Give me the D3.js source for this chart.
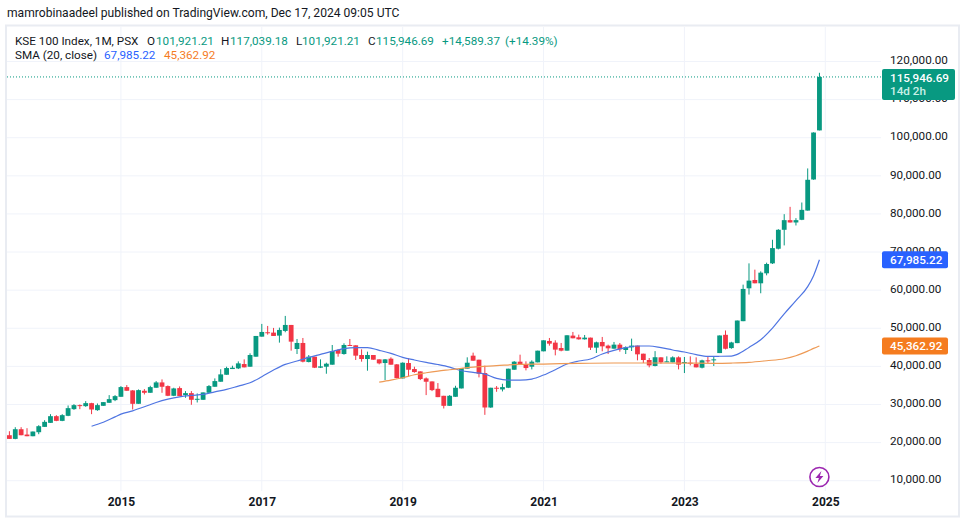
<!DOCTYPE html>
<html><head><meta charset="utf-8">
<script src="https://cdn.jsdelivr.net/npm/d3@7"></script>
<style>html,body{margin:0;padding:0;background:#fff;overflow:hidden}svg{display:block}
text{font-family:Roboto,"Noto Sans",sans-serif;fill:#131722}</style></head>
<body><svg id="c" width="965" height="522"></svg>
<script>
const opens=[21934,20970,23510,22109,21670,22723,24126,25179,26930,25700,27020,28774,29830,29564,30350,28511,29650,30441,31142,32019,34560,33690,30180,33600,33070,34390,35790,34830,32280,34300,32460,32980,31320,31230,33070,34650,35970,37800,39300,39470,40610,39910,42540,47800,48950,48860,48070,49300,50870,44560,46140,41140,42540,39650,39910,40440,44300,43240,45610,45530,42980,41930,42980,41840,40880,42020,40530,36840,40880,39300,38680,36840,36050,34120,32280,29650,32020,34210,39390,42810,41750,38250,29210,34390,33950,34390,39120,41230,40610,39910,41050,43950,46670,46230,44820,44120,48070,47630,47100,47540,44910,46400,45440,44650,45700,44300,45000,45440,43330,41670,40100,42370,41230,41050,42370,41050,40960,40610,39650,41580,41750,43490,48280,44800,46100,51860,60490,62670,61800,64420,67030,70870,75840,78370,77760,78460,80880,89040,101921.21];
const highs=[22986,24040,24040,23776,22900,24565,25880,27459,27196,27460,29739,30090,30002,30879,30440,30265,30620,32458,32460,34826,35090,33770,33950,34040,34910,36140,36580,35000,34390,34740,33510,33510,32900,33160,35090,36843,39250,39910,40175,41315,41840,43420,47980,51140,50610,50090,50170,53240,50870,47190,47450,42980,42540,41840,40960,45610,44560,46050,47190,45530,44470,43860,42980,41840,41930,42370,40610,41050,42100,39910,38680,37100,36050,35620,32280,32460,34910,39560,42370,43600,41750,40180,34390,34830,35440,39390,41400,43070,41320,41580,44120,46840,47450,46840,46140,48160,49030,48330,48240,47540,46490,47720,45700,46400,46140,45260,47280,45440,43330,42190,44000,42370,42630,42630,42630,42460,42630,42370,41750,42460,42460,48110,49420,46450,52030,61450,67030,65380,64940,67210,73220,76010,79940,81860,78890,83000,91940,101420,117039.18];
const lows=[20969,20880,21930,21670,21670,22197,24126,25179,25617,25620,26930,28599,28770,29388,27460,28336,29650,30441,30879,32019,33600,28690,30180,32630,33070,34390,33070,32190,32190,32190,31756,29915,30528,31230,33070,34650,35970,37800,39300,39300,39740,39910,42540,47800,48330,47980,46230,48950,44120,43240,41050,41050,39560,39560,38070,40440,42540,43070,45440,41670,41230,38860,41750,40530,36400,40440,36840,36840,37460,38330,36400,32460,33510,31930,28950,29650,32020,34210,39390,41490,37110,27280,29120,33330,33420,34300,39120,40350,38950,39210,41050,43950,45440,42890,43950,44120,47370,47020,47020,44300,43510,43950,43240,44650,43860,43240,44030,41580,40880,39740,40000,40700,41140,41050,39210,38250,40260,39740,39470,40880,40090,43490,44450,44620,46100,51860,58840,61800,59180,63890,66860,70690,71740,77760,76970,78370,80880,88960,101921.21];
const closes=[20969,23512,21930,21670,22900,24302,25442,26933,25705,27200,29038,29827,29651,30353,28687,29830,30620,31405,32195,34563,33600,30178,33770,33070,34560,35790,34650,32282,34210,32190,32980,31230,31493,33160,34830,36140,37900,39560,39650,40790,39740,42980,47980,49030,48770,47980,49560,50870,46490,46140,41230,42540,39650,40000,40700,44030,43330,45610,45440,42810,41930,42980,41750,40790,41840,40440,36930,40960,39120,38510,36670,35970,33770,31930,29650,32280,34390,39560,40960,41490,38070,29210,34390,34210,34560,39390,41230,40440,39560,41230,44120,46840,45960,44390,44120,48160,47370,47100,47540,44910,46310,45260,44740,45700,44470,45000,45440,43160,41670,40260,42400,41050,41320,42370,40440,41140,40700,39740,41580,41320,41840,48110,44620,46280,52030,60320,62500,61800,64590,66860,71040,75840,78370,77760,78370,81070,88960,101360,115946.69];

const blueMonths=["2014-08","2014-10","2014-12","2015-01","2015-03","2015-05","2015-07","2015-09","2015-11","2016-01","2016-03","2016-05","2016-07","2016-09","2016-11","2017-01","2017-03","2017-05","2017-07","2017-09","2017-11","2018-01","2018-03","2018-05","2018-07","2018-09","2018-11","2019-01","2019-03","2019-05","2019-07","2019-09","2019-11","2020-01","2020-03","2020-05","2020-07","2020-09","2020-11","2021-01","2021-03","2021-05","2021-07","2021-09","2021-11","2022-01","2022-03","2022-05","2022-07","2022-09","2022-11","2023-01","2023-03","2023-05","2023-07","2023-09","2023-10","2023-12","2024-02","2024-04","2024-06","2024-08","2024-10","2024-11","2024-12"];
const blueValues=[24300,25350,26760,27460,28340,29390,30530,31400,32020,32370,32630,33330,33960,34830,35700,37280,39040,40530,41400,42370,43160,43950,44650,44910,44910,44210,43420,42370,41670,41050,40500,39820,38860,38420,37980,36840,36400,36400,36670,37720,39120,40610,41400,41930,43240,44210,44910,45350,45350,44910,44300,43770,43070,42630,42650,42700,43140,44970,46980,50030,53780,57270,60930,63810,67985.22];
const orangeMonths=["2018-09","2018-11","2019-01","2019-03","2019-05","2019-07","2019-09","2019-11","2020-01","2020-05","2020-09","2021-01","2021-07","2022-01","2022-07","2023-01","2023-06","2023-09","2023-12","2024-03","2024-06","2024-08","2024-10","2024-11","2024-12"];
const orangeValues=[35880,36400,37020,37810,38330,38770,39120,39470,39820,40180,40530,40610,40790,40880,40880,40850,40800,40870,41050,41480,42000,42790,44010,44710,45362.92];

const priceTicks=[10000,20000,30000,40000,50000,60000,70000,80000,90000,100000,110000,120000];
const yearTicks=["2015-01","2017-01","2019-01","2021-01","2023-01","2025-01"];
const lastPrice=115946.69, sma1=67985.22, sma2=45362.92;
const legendRows=[
 [["KSE 100 Index, 1M, PSX",15,"#131722"],["O",147,"#131722"],["101,921.21",156,"#089981"],["H",221,"#131722"],["117,039.18",230,"#089981"],["L",296,"#131722"],["101,921.21",302,"#089981"],["C",368,"#131722"],["115,946.69",376,"#089981"],["+14,589.37",442,"#089981"],["(+14.39%)",505,"#089981"]],
 [["SMA (20, close)",15,"#131722"],["67,985.22",104,"#2962ff"],["45,362.92",164,"#f57c1f"]]
];

const fmtMonth=d3.utcFormat("%Y-%m");
const months=d3.utcMonths(new Date(Date.UTC(2013,5,1)),new Date(Date.UTC(2025,1,1))).map(fmtMonth);
const x=d3.scalePoint().domain(months).range([9.4,825.3]);
const y=d3.scaleLinear().domain([10000,120000]).range([480.7,61.5]);
const GREEN="#089981",RED="#f23645";
const svg=d3.select("#c");
const L=7,R=881,T=27,B=491;
const FS="11.7px";

svg.append("rect").attr("x",6).attr("y",25.5).attr("width",953).attr("height",491).attr("fill","none").attr("stroke","#e9ecf2").attr("stroke-width",2);

svg.append("g").selectAll("line").data(priceTicks).join("line")
 .attr("x1",L).attr("x2",R).attr("y1",d=>y(d)).attr("y2",d=>y(d)).attr("stroke","#f0f3fa");
svg.append("g").selectAll("line").data(yearTicks).join("line")
 .attr("x1",d=>x(d)).attr("x2",d=>x(d)).attr("y1",T).attr("y2",B).attr("stroke","#f0f3fa");

const idx=d3.range(opens.length);
const col=i=>closes[i]>=opens[i]?GREEN:RED;
svg.append("g").selectAll("line").data(idx).join("line")
 .attr("x1",i=>x(months[i])).attr("x2",i=>x(months[i]))
 .attr("y1",i=>y(highs[i])).attr("y2",i=>y(lows[i])).attr("stroke",col).attr("stroke-width",1);
svg.append("g").selectAll("rect").data(idx).join("rect")
 .attr("x",i=>x(months[i])-2.4).attr("width",4.8)
 .attr("y",i=>Math.min(y(opens[i]),y(closes[i])))
 .attr("height",i=>Math.max(1,Math.abs(y(opens[i])-y(closes[i]))))
 .attr("fill",col);

const line=d3.line().x(d=>x(d[0])).y(d=>y(d[1])).curve(d3.curveMonotoneX);
svg.append("path").attr("d",line(d3.zip(blueMonths,blueValues))).attr("fill","none").attr("stroke","#4f75e2").attr("stroke-width",1.2);
svg.append("path").attr("d",line(d3.zip(orangeMonths,orangeValues))).attr("fill","none").attr("stroke","#ee9a55").attr("stroke-width",1.2);

svg.append("line").attr("x1",L).attr("x2",R).attr("y1",y(lastPrice)).attr("y2",y(lastPrice))
 .attr("stroke",GREEN).attr("stroke-width",1).attr("stroke-dasharray","1 2");

const ay=svg.append("g").attr("transform","translate(890,-1.5)")
 .call(d3.axisRight(y).tickValues(priceTicks.filter(d=>d!==70000&&d!==110000)).tickSize(0).tickPadding(0).tickFormat(d3.format(",.2f")));
ay.select(".domain").remove();
ay.selectAll("text").style("font-size",FS).attr("x",0);
const ax=svg.append("g").attr("transform","translate(0,497)")
 .call(d3.axisBottom(x).tickValues(yearTicks).tickSize(0).tickPadding(0).tickFormat(d=>d.slice(0,4)));
ax.select(".domain").remove();
ax.selectAll("text").style("font-size","12px").style("font-weight","700");

// The 70,000 and 110,000 labels sit behind the price tags, as in the reference.
svg.append("text").attr("x",890).attr("y",y(70000)+2.5).style("font-size",FS).text(d3.format(",.2f")(70000));
svg.append("text").attr("x",890).attr("y",y(110000)+2.5).style("font-size",FS).text(d3.format(",.2f")(110000));

function tag(v,bg,h,w,extra){
 const cy=y(v),g=svg.append("g");
 const top=extra?cy-8:cy-8.5;
 g.append("rect").attr("x",882).attr("y",top).attr("width",w).attr("height",h).attr("rx",2).attr("fill",bg);
 g.append("text").attr("x",890).attr("y",top+12.7).style("font-size",FS).style("font-weight","500").style("fill","#fff").text(d3.format(",.2f")(v));
 if(extra) g.append("text").attr("x",890).attr("y",top+26.5).style("font-size",FS).style("font-weight","500").style("fill","#c8f0e6").text(extra);
}
tag(lastPrice,GREEN,31,73,"14d 2h");
tag(sma1,"#2962ff",17,66);
tag(sma2,"#f57c1f",17,66);

svg.append("text").attr("x",7).attr("y",17).style("font-size","12.1px").text("mamrobinaadeel published on TradingView.com, Dec 17, 2024 09:05 UTC");
legendRows.forEach((row,r)=>{
 svg.append("g").selectAll("text").data(row).join("text")
  .attr("x",d=>d[1]).attr("y",45+r*13.5).style("font-size",FS).style("fill",d=>d[2]).text(d=>d[0]);
});

const ic=svg.append("g").attr("transform","translate(819.4,477)");
ic.append("circle").attr("r",9.5).attr("fill","#fff").attr("stroke","#9c27b0").attr("stroke-width",1.6);
ic.append("path").attr("d","M2,-6 L-4,1 L-0.5,1 L-2,6 L4,-1 L0.5,-1 Z").attr("fill","#9c27b0");
</script></body></html>
